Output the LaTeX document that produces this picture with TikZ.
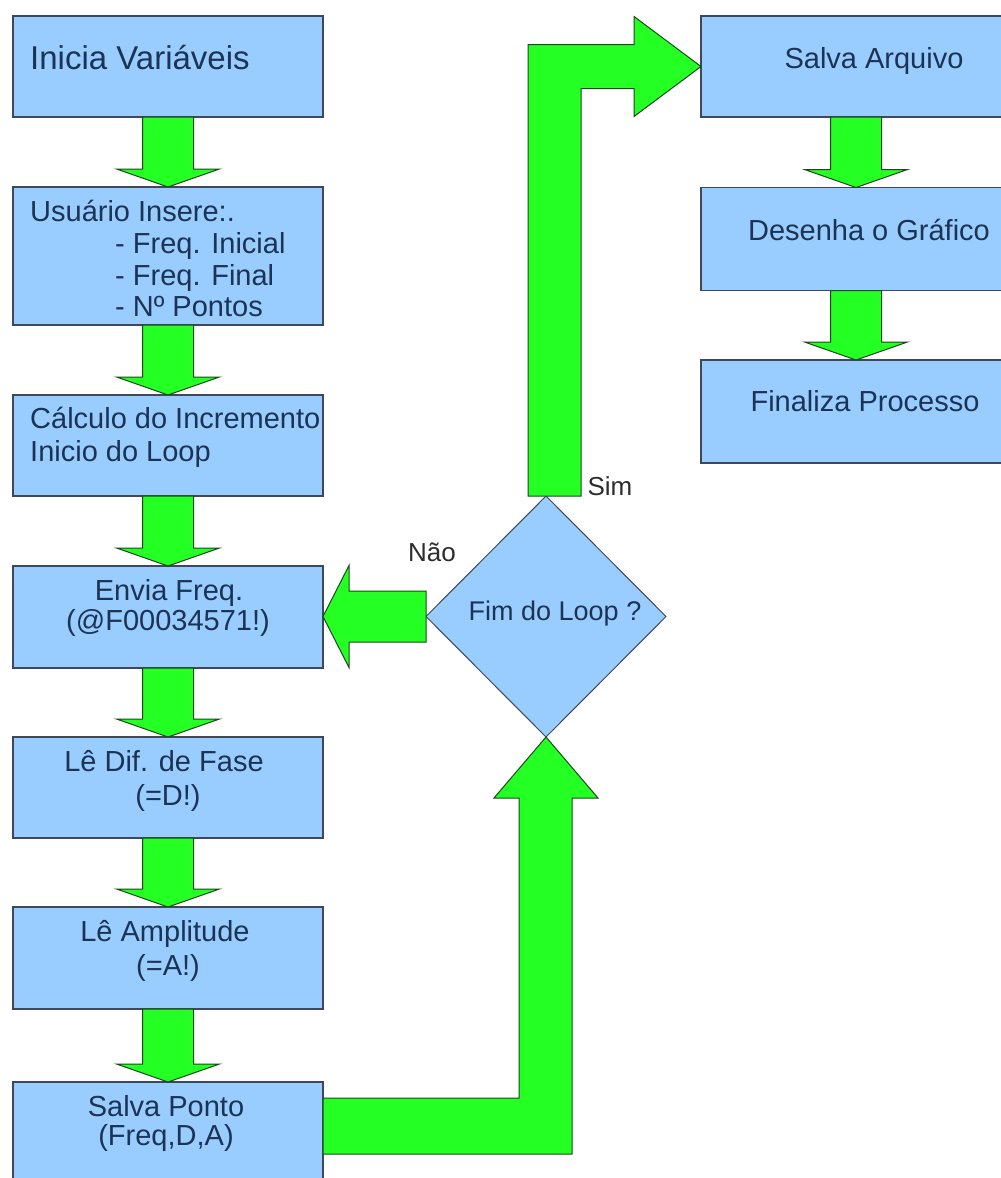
\documentclass[tikz,border=0pt]{standalone}
\usepackage{fontspec}
\setmainfont{Liberation Sans}
\usetikzlibrary{shapes.geometric,calc}

\definecolor{boxblue}{RGB}{153,204,255}
\definecolor{boxline}{RGB}{62,72,88}
\definecolor{arrowfill}{RGB}{36,255,36}
\definecolor{arrowline}{RGB}{28,72,28}
\definecolor{textnavy}{RGB}{28,52,84}
\definecolor{labelgrey}{RGB}{45,45,45}

\tikzset{
  stepbox/.style={rectangle, draw=boxline, line width=1.3pt, fill=boxblue,
    minimum width=310pt, inner sep=0pt, outer sep=0pt},
  decision/.style={diamond, draw=boxline, line width=1pt, fill=boxblue,
    minimum width=240pt, minimum height=241pt, inner sep=0pt, outer sep=0pt},
  flowarrow/.style={fill=arrowfill, draw=arrowline, line width=1pt, line join=miter},
  boxtext/.style={text=textnavy, inner sep=0pt, font=\fontsize{29pt}{32pt}\selectfont},
  bigtext/.style={text=textnavy, inner sep=0pt, font=\fontsize{33pt}{36pt}\selectfont},
  dectext/.style={text=textnavy, inner sep=0pt, font=\fontsize{27pt}{30pt}\selectfont},
  branchlabel/.style={text=labelgrey, inner sep=0pt, font=\fontsize{26pt}{30pt}\selectfont},
}

% straight downward block arrow from the bottom of one box to the top of the next
\newcommand{\dnflow}[2]{%
  \draw[flowarrow] let \p1=(#1.south), \p2=(#2.north) in
    (\x1-25.5pt,\y1) -- (\x1-25.5pt,\y2+18pt) -- (\x1-51.5pt,\y2+18pt) --
    (\x1,\y2) -- (\x1+51.5pt,\y2+18pt) -- (\x1+25.5pt,\y2+18pt) --
    (\x1+25.5pt,\y1) -- cycle;}

\begin{document}
\begin{tikzpicture}[x=1pt,y=-1pt]
\useasboundingbox (0,0) rectangle (1001,1178);
\fill[white] (0,0) rectangle (1001,1178);
\clip (0,0) rectangle (1001,1178);

% left column
\node[stepbox, minimum height=101pt] (L1) at (168,66.5) {};
\node[stepbox, minimum height=138pt] (L2) at (168,256) {};
\node[stepbox, minimum height=101pt] (L3) at (168,445.5) {};
\node[stepbox, minimum height=102pt] (L4) at (168,617) {};
\node[stepbox, minimum height=101pt] (L5) at (168,787.5) {};
\node[stepbox, minimum height=102pt] (L6) at (168,958) {};
\node[stepbox, minimum height=101pt] (L7) at (168,1132.5) {};

% right column
\node[stepbox, minimum height=101pt] (R1) at (856,66.5) {};
\node[stepbox, minimum height=103pt] (R2) at (856,239) {};
\node[stepbox, minimum height=103pt] (R3) at (856,411.5) {};

% loop test
\node[decision] (dec) at (546,616.5) {};

% arrows down the columns
\dnflow{L1}{L2}
\dnflow{L2}{L3}
\dnflow{L3}{L4}
\dnflow{L4}{L5}
\dnflow{L5}{L6}
\dnflow{L6}{L7}
\dnflow{R1}{R2}
\dnflow{R2}{R3}

% "Nao" branch back to the send step
\draw[flowarrow] let \p1=(dec.west), \p2=(L4.east) in
  (\x1,\y1+25.5pt) -- (\x2+26pt,\y1+25.5pt) -- (\x2+26pt,\y1+51pt) --
  (\x2,\y1) -- (\x2+26pt,\y1-51pt) -- (\x2+26pt,\y1-25.5pt) --
  (\x1,\y1-25.5pt) -- cycle;

% "Sim" branch up and over to saving the file
\draw[flowarrow] let \p1=(dec.north), \p2=(R1.west) in
  (\x1-18pt,\y1) -- (\x1-18pt,\y2+22pt) -- (\x2-67pt,\y2+22pt) --
  (\x2-67pt,\y2+50pt) -- (\x2,\y2) -- (\x2-67pt,\y2-50pt) --
  (\x2-67pt,\y2-22pt) -- (\x1+35pt,\y2-22pt) -- (\x1+35pt,\y1) -- cycle;

% from saving the point back up to the loop test
\draw[flowarrow] let \p1=(L7.east), \p2=(dec.south) in
  (\x1,\y1+34.5pt) -- (\x2-27pt,\y1+34.5pt) -- (\x2-27pt,\y2-61pt) --
  (\x2-52pt,\y2-61pt) -- (\x2,\y2) -- (\x2+52pt,\y2-61pt) --
  (\x2+26pt,\y2-61pt) -- (\x2+26pt,\y1-21.5pt) -- (\x1,\y1-21.5pt) -- cycle;

% texts of the left column
\node[bigtext, anchor=mid west] (t1) at (30,67) {Inicia Variáveis};
\node[boxtext, anchor=mid west] (t2a) at (30,219) {Usuário Insere:.};
\node[boxtext, anchor=mid west] (t2b) at (115,251) {- Freq. Inicial};
\node[boxtext, anchor=mid west] (t2c) at (115,283) {- Freq. Final};
\node[boxtext, anchor=mid west] (t2d) at (115,314) {- Nº Pontos};
\node[boxtext, anchor=mid west] (t3a) at (30,426) {Cálculo do Incremento};
\node[boxtext, anchor=mid west] (t3b) at (30,459) {Inicio do Loop};
\node[boxtext, anchor=mid] (t4a) at (169,598) {Envia Freq.};
\node[boxtext, anchor=mid] (t4b) at (168,628) {(@F00034571!)};
\node[boxtext, anchor=mid] (t5a) at (164,769) {Lê Dif. de Fase};
\node[boxtext, anchor=mid] (t5b) at (168,803) {(=D!)};
\node[boxtext, anchor=mid] (t6a) at (165,939) {Lê Amplitude};
\node[boxtext, anchor=mid] (t6b) at (168,973) {(=A!)};
\node[boxtext, anchor=mid] (t7a) at (166,1114) {Salva Ponto};
\node[boxtext, anchor=mid] (t7b) at (166,1143) {(Freq,D,A)};

% texts of the right column
\node[boxtext, anchor=mid] (r1t) at (874,66) {Salva Arquivo};
\node[boxtext, anchor=mid] (r2t) at (869,238) {Desenha o Gráfico};
\node[boxtext, anchor=mid] (r3t) at (865,409) {Finaliza Processo};

% decision text and branch labels
\node[dectext, anchor=mid] (dt) at (555,618) {Fim do Loop ?};
\node[branchlabel, anchor=mid] (nao) at (432,559) {Não};
\node[branchlabel, anchor=mid] (sim) at (610,493) {Sim};
\end{tikzpicture}
\end{document}
